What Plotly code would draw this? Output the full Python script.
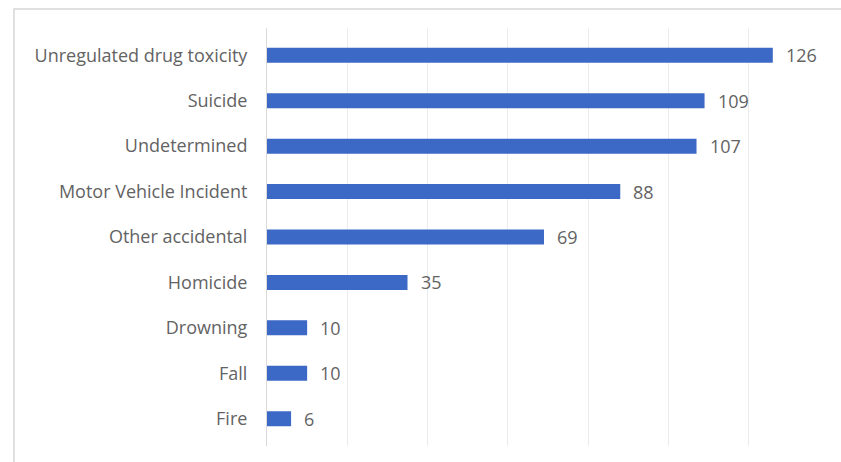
import plotly.graph_objects as go

# Causes of death and their counts, top to bottom
categories = [
    "Unregulated drug toxicity",
    "Suicide",
    "Undetermined",
    "Motor Vehicle Incident",
    "Other accidental",
    "Homicide",
    "Drowning",
    "Fall",
    "Fire",
]
counts = [126, 109, 107, 88, 69, 35, 10, 10, 6]

W, H = 841, 462
M_L, M_R, M_T, M_B = 267, 12, 28, 16
plot_w = W - M_L - M_R
plot_h = H - M_T - M_B


def px_to_paper_x(px):
    return (px - M_L) / plot_w


def px_to_paper_y(py):
    return (H - M_B - py) / plot_h


BAR_COLOR = "#3d69c6"
TEXT_COLOR = "#636363"
FONT = "Open Sans"
FONT_SIZE = 18

fig = go.Figure(
    go.Bar(
        x=counts,
        y=categories,
        orientation="h",
        marker=dict(color=BAR_COLOR, line=dict(width=0)),
        width=0.33,
        hoverinfo="x+y",
    )
)

# Value labels just past the end of each bar
for cat, val in zip(categories, counts):
    fig.add_annotation(
        x=val,
        y=cat,
        text=str(val),
        showarrow=False,
        xanchor="left",
        yanchor="middle",
        xshift=11,
        font=dict(family=FONT, size=FONT_SIZE, color=TEXT_COLOR),
    )

# Chart frame (left and top edges visible)
fig.add_shape(
    type="rect",
    xref="paper",
    yref="paper",
    x0=px_to_paper_x(14),
    x1=px_to_paper_x(W + 10),
    y0=px_to_paper_y(H + 10),
    y1=px_to_paper_y(9),
    line=dict(color="#d6d6d6", width=1.5),
    fillcolor="rgba(0,0,0,0)",
    layer="below",
)

fig.update_layout(
    width=W,
    height=H,
    margin=dict(l=M_L, r=M_R, t=M_T, b=M_B),
    paper_bgcolor="white",
    plot_bgcolor="white",
    showlegend=False,
    font=dict(family=FONT, color=TEXT_COLOR),
    xaxis=dict(
        range=[0, 140],
        dtick=20,
        showgrid=True,
        gridcolor="#ececec",
        gridwidth=1,
        zeroline=False,
        showticklabels=False,
        showline=False,
        fixedrange=True,
    ),
    yaxis=dict(
        type="category",
        categoryorder="array",
        categoryarray=categories,
        range=[8.6, -0.6],
        showgrid=False,
        zeroline=False,
        showline=True,
        linecolor="#d9d9d9",
        linewidth=1,
        ticks="",
        ticklabelstandoff=15,
        tickfont=dict(family=FONT, size=FONT_SIZE, color=TEXT_COLOR),
        fixedrange=True,
    ),
)

fig.write_html("out.html")
